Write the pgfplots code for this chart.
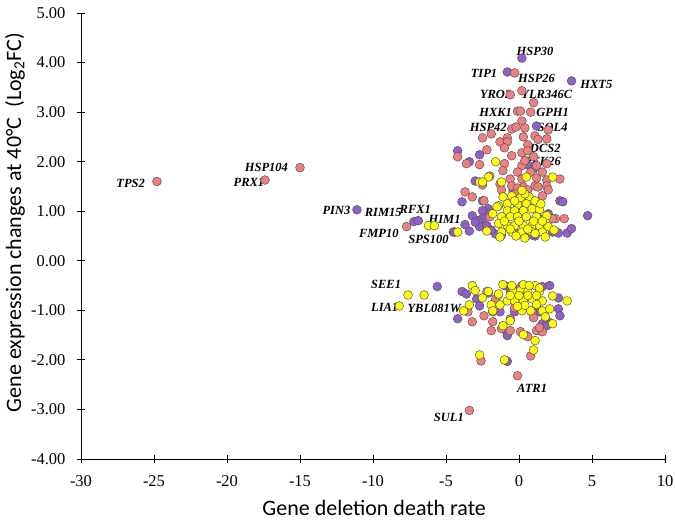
\documentclass[border=0pt]{standalone}
\usepackage{pgfplots}
\pgfplotsset{compat=1.18}
\usepackage{fontspec}
\setmainfont{Liberation Serif}
\newfontfamily\timesf{Liberation Serif}
\newfontfamily\carlito{Carlito}
\definecolor{pinkc}{RGB}{240,128,128}
\definecolor{purpc}{RGB}{145,95,200}
\definecolor{yelc}{RGB}{255,255,0}
\definecolor{edgec}{RGB}{85,85,85}
\begin{document}
\begin{tikzpicture}
\path[use as bounding box] (-81pt,-61pt) rectangle (594pt,459pt);
\begin{axis}[
  scale only axis, width=584pt, height=446pt,
  xmin=-30, xmax=10, ymin=-4, ymax=5,
  axis x line=bottom, axis y line=left,
  axis line style={-, black, line width=0.8pt},
  xtick={-30,-25,...,10}, ytick={-4,-3,...,5},
  tick align=center, major tick length=8pt,
  tick style={black, line width=0.8pt},
  xticklabel={\timesf\pgfmathprintnumber[assume math mode=true]{\tick}},
  yticklabel={\timesf\pgfmathprintnumber[fixed,fixed zerofill,precision=2,assume math mode=true]{\tick}},
  xticklabel style={font=\timesf\fontsize{16.5}{16.5}\selectfont, yshift=-9pt},
  yticklabel style={font=\timesf\fontsize{16.5}{16.5}\selectfont, xshift=-8pt},
  xlabel={Gene deletion death rate},
  ylabel={Gene expression changes at 40°C\ \ (Log\textsubscript{2}FC)},
  xlabel style={font=\carlito\fontsize{22}{22}\selectfont, at={(axis description cs:0.502,-0.11)}, anchor=center},
  ylabel style={font=\carlito\fontsize{22}{22}\selectfont, at={(axis description cs:-0.113,0.53)}, anchor=center},
  clip=false,
]
\addplot[only marks, mark=*, mark size=4.4pt, mark options={draw=edgec, line width=0.5pt, fill=purpc}] coordinates {
(-11.1,1.03) (-7.2,0.79) (-6.9,0.81) (-4.5,0.58) (-3.7,0.73)
(0.2,4.09) (-0.8,3.81) (3.6,3.63) (1.2,2.72)
(-4.2,2.22) (-2.7,2.14) (-3.4,2.00) (-3.0,1.61) (0.7,1.92) (1.0,1.85) (-3.9,1.19) (-2.5,1.21)
(-2.1,1.05) (-2.5,1.01) (-3.2,0.91) (-2.5,0.85) (-2.8,0.81) (-2.7,0.69) (-2.2,0.71) (-3.4,0.60)
(-4.4,0.58) (-1.6,0.54) (-0.1,0.54) (0.5,0.50) (1.1,0.50) (2.3,0.58) (2.7,0.56) (3.3,0.56)
(2.8,1.21) (1.4,0.85) (-0.4,1.41) (4.7,0.91) (3.0,1.19) (3.6,0.65) (-1.9,0.62) (-1.2,0.52)
(1.6,0.62) (-3.0,0.78) (-2.0,0.95) (2.0,0.95) (0.9,0.52)
(-5.6,-0.52) (-3.9,-0.62) (-3.6,-0.67) (-4.2,-1.17) (-2.9,-0.77) (-2.1,-0.65) (-2.7,-0.91)
(-1.3,-1.03) (-0.8,-1.47) (-0.4,-0.56) (0.2,-0.50) (-1.0,-0.50) (-0.6,-0.60) (1.6,-0.52)
(2.1,-0.50) (1.6,-1.27) (2.0,-1.23) (2.7,-0.97) (2.8,-1.11) (1.4,-1.03) (1.2,-0.91) (-0.3,-1.03)
(1.9,-1.31) (1.4,-1.41) (-0.8,-1.51) (-0.8,-2.03) (2.7,-0.75) (0.4,-0.66)
};
\addplot[only marks, mark=*, mark size=4.4pt, mark options={draw=edgec, line width=0.5pt, fill=pinkc}] coordinates {
(-24.8,1.60) (-15.0,1.88) (-17.4,1.63) (-7.7,0.69) (-0.1,-2.32) (-3.4,-3.02)
(-0.3,3.79) (-0.6,3.35) (0.2,3.43) (1.0,3.19) (-0.1,3.02) (0.1,3.02) (0.8,3.00) (0.2,2.82)
(-0.5,2.66) (-0.2,2.70) (0.4,2.68) (-1.9,2.56) (-2.5,2.48) (-1.3,2.40) (-0.8,2.48) (0.3,2.50)
(1.1,2.52) (2.0,2.64) (1.9,2.46) (1.3,2.45) (-0.8,2.40) (0.6,2.34) (-2.2,2.24) (-1.0,2.28)
(0.2,2.18) (-4.2,2.10) (-0.5,2.12) (-3.6,1.96) (-2.7,1.94) (-1.0,1.96) (0.2,1.92) (1.2,1.92)
(1.9,1.96) (-1.1,1.82) (-0.1,1.79) (0.8,1.79) (1.6,1.79) (-2.0,1.71) (-0.6,1.65) (0.2,1.65)
(1.2,1.67) (1.9,1.63) (2.8,1.65) (-2.5,1.53) (-1.3,1.55) (-0.5,1.51) (0.3,1.49) (1.1,1.51)
(1.9,1.51) (-3.7,1.39) (-3.2,1.29) (-2.4,1.21) (-1.2,1.43) (-0.1,1.47) (0.6,1.43) (1.3,1.49)
(2.0,1.43) (-2.0,0.89) (2.5,0.85) (3.1,0.85) (0.5,1.25) (1.6,1.31) (-0.2,1.35) (2.3,0.85)
(0.6,2.22) (1.0,2.10) (0.4,2.02)
(-2.2,-0.62) (-3.5,-1.03) (-3.2,-1.23) (-2.4,-1.11) (-1.8,-1.03) (-1.6,-0.83) (-1.8,-1.23)
(-1.9,-1.41) (-0.6,-1.17) (-0.6,-1.41) (0.1,-1.43) (0.5,-1.51) (0.9,-1.03) (1.2,-1.41)
(1.6,-1.43) (1.4,-1.35) (0.8,-1.92) (-2.6,-2.02) (-1.2,-1.37) (-1.6,-0.77) (0.6,-1.53)
(-0.3,-0.95) (1.0,-1.15)
};
\addplot[only marks, mark=*, mark size=4.4pt, mark options={draw=edgec, line width=0.5pt, fill=yelc}] coordinates {
(-6.2,0.71) (-5.8,0.71) (-4.2,0.58) (-7.6,-0.69) (-6.5,-0.69) (-8.2,-0.91)
(-1.6,2.0) (-2.1,1.69) (-2.7,1.59) (-2.5,1.59) (-1.2,1.59) (0.5,1.69) (2.3,1.69) (-1.4,1.11)
(-1.1,1.29) (-0.5,1.31) (0.1,1.27) (0.7,1.29) (1.1,1.21) (-0.8,1.15) (-0.1,1.13) (0.5,1.15)
(-1.5,1.09) (-0.8,1.01) (-0.3,1.01) (0.3,1.01) (0.9,1.05) (1.4,1.03) (-1.2,0.89) (-0.6,0.89)
(-0.1,0.89) (0.5,0.89) (1.2,0.89) (1.9,0.91) (-1.4,0.75) (-0.8,0.71) (-0.3,0.71) (0.3,0.71)
(0.9,0.71) (1.4,0.71) (2.0,0.69) (-1.2,0.58) (-0.5,0.58) (0.2,0.58) (0.8,0.60) (1.6,0.58)
(-2.2,0.60) (-1.3,0.48) (1.8,0.48) (-0.3,1.21) (0.4,1.35) (1.5,1.15) (-1.0,0.80) (0.0,0.80)
(1.0,0.80) (1.6,0.80) (-0.6,0.64) (0.6,0.64) (1.1,0.55) (-0.2,0.50) (0.4,0.46) (2.4,0.62)
(-1.8,0.95) (0.2,1.42)
(-3.8,-1.01) (-3.2,-0.50) (-3.0,-0.60) (-3.4,-0.89) (-1.4,-0.69) (-1.9,-0.89) (-1.3,-0.89)
(-1.1,-0.48) (-2.1,-0.62) (-0.4,-0.62) (0.1,-0.60) (0.3,-0.48) (0.6,-0.62) (1.1,-0.50)
(1.4,-0.62) (2.3,-0.71) (3.3,-0.81) (-1.4,-0.67) (-0.8,-0.81) (-0.3,-0.81) (0.3,-0.81)
(0.9,-0.77) (1.6,-0.81) (-1.8,-1.01) (0.2,-1.01) (0.8,-1.01) (1.6,-1.01) (2.1,-0.97)
(1.8,-1.13) (2.3,-1.27) (-0.6,-1.21) (-1.1,-1.31) (-2.7,-1.90) (-1.0,-2.00) (1.0,-1.80)
(1.1,-1.61) (0.3,-1.49) (-0.5,-0.50) (0.7,-0.50) (1.4,-0.55) (0.0,-0.70) (0.6,-0.70)
(1.2,-0.70) (-0.6,-0.70) (-2.5,-0.75) (0.4,-0.90) (-0.1,-0.92) (1.2,-0.88)
};
\begin{scope}[every node/.style={font=\timesf\bfseries\itshape\fontsize{12.5}{12.5}\selectfont, inner sep=0pt}]
\node at (1.1,4.23) {HSP30};
\node at (-2.4,3.79) {TIP1};
\node at (1.2,3.67) {HSP26};
\node at (5.3,3.55) {HXT5};
\node at (-1.6,3.35) {YRO2};
\node at (1.9,3.35) {YLR346C};
\node at (-1.6,3.0) {HXK1};
\node at (2.3,3.0) {GPH1};
\node at (-2.1,2.70) {HSP42};
\node at (2.3,2.70) {SOL4};
\node at (1.8,2.26) {DCS2};
\node at (1.6,2.0) {PFK26};
\node at (-26.6,1.57) {TPS2};
\node at (-17.3,1.88) {HSP104};
\node at (-18.5,1.59) {PRX1};
\node at (-12.5,1.01) {PIN3};
\node at (-9.3,0.97) {RIM15};
\node at (-7.1,1.03) {RFX1};
\node at (-5.1,0.83) {HIM1};
\node at (-9.6,0.56) {FMP10};
\node at (-6.2,0.44) {SPS100};
\node at (-9.1,-0.48) {SEE1};
\node at (-9.2,-0.95) {LIA1};
\node at (-5.8,-0.97) {YBL081W};
\node at (0.9,-2.58) {ATR1};
\node at (-4.8,-3.17) {SUL1};
\end{scope}
\end{axis}
\end{tikzpicture}
\end{document}
